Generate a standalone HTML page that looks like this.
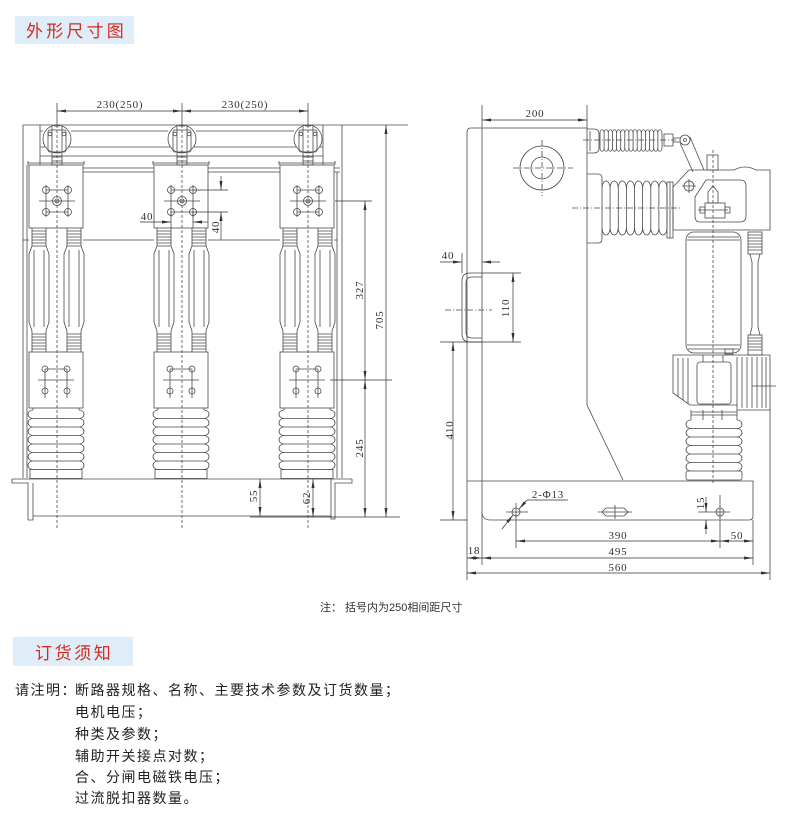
<!DOCTYPE html>
<html><head><meta charset="utf-8">
<style>
html,body{margin:0;padding:0;background:#fff;}
body{width:800px;height:830px;position:relative;overflow:hidden;}
svg{position:absolute;left:0;top:0;}
</style></head><body>
<svg width="800" height="830" viewBox="0 0 800 830" xmlns="http://www.w3.org/2000/svg">
<defs>
<marker id="a" viewBox="0 0 9 3" refX="9" refY="1.5" markerWidth="9" markerHeight="3" markerUnits="userSpaceOnUse" orient="auto-start-reverse"><path d="M0,0 L9,1.5 L0,3z" fill="#333"/></marker>
<g id="post">
<path d="M-7,228 V246 M7,228 V246 M-7,231 H7 M-7,234 H7 M-7,237 H7 M-7,240 H7 M-7,243 H7 M-7,246 H7"/>
<path d="M-7,246 L-10,254 V322 L-7,331 M7,246 L10,254 V322 L7,331"/>
<path d="M-5,250 V327 M5,250 V327"/>
<path d="M-7,331 V352 M7,331 V352 M-7,334 H7 M-7,337 H7 M-7,340 H7 M-7,343 H7 M-7,346 H7 M-7,349 H7"/>
</g>
<g id="ph">
<circle cx="0" cy="139" r="14"/>
<rect x="-9" y="130" width="18" height="22" rx="2"/>
<path d="M-5,126 V152 M5,126 V152 M-3,126 H3"/>
<circle cx="-7" cy="134" r="1.8"/><circle cx="7" cy="134" r="1.8"/>
<rect x="-5" y="152" width="10" height="13"/>
<path d="M-5,157 H5 M-5,161 H5"/>
<path d="M-29,163 H27 M-29,161 V165 M27,161 V165"/>
<rect x="-28" y="165" width="54" height="63"/>
<path d="M-11,190 H11 M-11,212 H11 M-11,185 V217 M11,185 V217 M-18,201 H18"/>
<circle cx="-11" cy="190" r="3.5"/><circle cx="11" cy="190" r="3.5"/>
<circle cx="-11" cy="212" r="3.5"/><circle cx="11" cy="212" r="3.5"/>
<circle cx="0" cy="201" r="4.5"/><circle cx="0" cy="201" r="2"/>
<use href="#post" x="-18"/>
<use href="#post" x="17"/>
<rect x="-28" y="352" width="54" height="56"/>
<path d="M-12,369 H10 M-12,369 V398 M10,369 V398 M-19,380 H17"/>
<circle cx="-12" cy="369" r="3"/><circle cx="10" cy="369" r="3"/>
<circle cx="-12" cy="391" r="3"/><circle cx="10" cy="391" r="3"/>
<path d="M-24,408 V410 M22,408 V410"/>
<path d="M-24,410 a5,4.25 0 0 0 0,8.5 a5,4.25 0 0 0 0,8.5 a5,4.25 0 0 0 0,8.5 a5,4.25 0 0 0 0,8.5 a5,4.25 0 0 0 0,8.5 a5,4.25 0 0 0 0,8.5 a5,4.25 0 0 0 0,8.5"/>
<path d="M22,410 a5,4.25 0 0 1 0,8.5 a5,4.25 0 0 1 0,8.5 a5,4.25 0 0 1 0,8.5 a5,4.25 0 0 1 0,8.5 a5,4.25 0 0 1 0,8.5 a5,4.25 0 0 1 0,8.5 a5,4.25 0 0 1 0,8.5"/>
<path d="M-24,418.5 H22 M-24,427 H22 M-24,435.5 H22 M-24,444 H22 M-24,452.5 H22 M-24,461 H22"/>
<rect x="-27" y="469.5" width="52" height="9"/>
<path d="M0,103 V125" />
<path d="M0,125 V528" stroke-dasharray="3,2"/>
</g>
</defs>

<!-- Title boxes -->
<rect x="15" y="16" width="119" height="28" fill="#deedf8"/>
<text x="26" y="37" font-size="17" fill="#d42a20" letter-spacing="3.2" font-family="'Liberation Sans','Noto Sans CJK SC',sans-serif">外形尺寸图</text>

<!-- LEFT FRONT VIEW -->
<g stroke="#4a4a4a" stroke-width="0.8" fill="none">
<path d="M23,478 V125 H408"/>
<path d="M342,125 V478"/>
<path d="M40,125 V165 M323,125 V165"/>
<path d="M40,131 H43 M71,131 H168 M196,131 H294 M322,131 H323"/>
<path d="M40,147 H45 M69,147 H170 M194,147 H296 M320,147 H323"/>
<path d="M40,156 H323"/>
<path d="M27,165 V478"/>
<path d="M83,168 H154 M208,168 H280 M334,168 H340 M83,172 H154 M208,172 H280 M334,172 H340"/>
<path d="M337,172 V478"/>
<path d="M23,240 H29 M83,240 H154 M208,240 H280 M334,240 H337"/>
<path d="M12,479 H352"/>
<path d="M12,479 V483 H28 V520 H33 V483"/>
<path d="M33,516 H331"/>
<path d="M352,479 V483 H335 V519 H331 V479"/>
<use href="#ph" x="57"/>
<use href="#ph" x="182"/>
<use href="#ph" x="308"/>
</g>

<!-- LEFT dims -->
<g stroke="#333" stroke-width="0.7" fill="none">
<line x1="57" y1="111" x2="182" y2="111" marker-start="url(#a)" marker-end="url(#a)"/>
<line x1="182" y1="111" x2="308" y2="111" marker-start="url(#a)" marker-end="url(#a)"/>
<path d="M171,212 V228 M193,212 V228"/>
<line x1="140" y1="222" x2="171" y2="222" marker-end="url(#a)"/>
<line x1="208" y1="222" x2="193" y2="222" marker-end="url(#a)"/>
<path d="M193,190 H228 M193,212 H228"/>
<line x1="221" y1="176" x2="221" y2="190" marker-end="url(#a)"/>
<line x1="221" y1="240" x2="221" y2="212" marker-end="url(#a)"/>
<path d="M335,201 H372 M330,380 H392 M250,517 H400"/>
<line x1="365" y1="201" x2="365" y2="380" marker-start="url(#a)" marker-end="url(#a)"/>
<line x1="365" y1="380" x2="365" y2="517" marker-start="url(#a)" marker-end="url(#a)"/>
<line x1="386" y1="125" x2="386" y2="517" marker-start="url(#a)" marker-end="url(#a)"/>
<line x1="260" y1="479" x2="260" y2="516" marker-start="url(#a)" marker-end="url(#a)"/>
<line x1="313" y1="479" x2="313" y2="517" marker-start="url(#a)" marker-end="url(#a)"/>
</g>
<g font-family="'Liberation Serif',serif" font-size="11" fill="#333" letter-spacing="0.8" text-anchor="middle">
<text x="120" y="108">230(250)</text>
<text x="245" y="108">230(250)</text>
<text x="147" y="220">40</text>
<text transform="translate(219,227) rotate(-90)">40</text>
<text transform="translate(363,290) rotate(-90)">327</text>
<text transform="translate(383,320) rotate(-90)">705</text>
<text transform="translate(363,448) rotate(-90)">245</text>
<text transform="translate(257,496) rotate(-90)">55</text>
<text transform="translate(310,498) rotate(-90)">62</text>
</g>

<!-- RIGHT SIDE VIEW -->
<g stroke="#4a4a4a" stroke-width="0.8" fill="none">
<path d="M467,580 V132 Q467,128 471,128 H587 V405 L623,480"/>
<path d="M467,481 H753 V516 Q753,520 749,520 H490 Q483,520 482,513"/>
<path d="M482,105 V565 M587,105 V128"/>
<circle cx="542" cy="168" r="22"/><circle cx="542" cy="168" r="11"/>
<path d="M513,168 H573 M542,140 V196" stroke-dasharray="6,2,1,2"/>
<path d="M482,273 H470 Q462,273 462,281 V334 Q462,342 470,342 H482"/>
<path d="M482,277 H472 Q466,277 466,283 V332 Q466,338 472,338 H482"/>
<path d="M445,310 H492" stroke-dasharray="6,2,1,2"/>
<!-- small upper insulator -->
<path d="M587,129 H594 Q599,129 599,134 V148 Q599,153 594,153 H587"/>
<path d="M590,131 V151"/>
<path d="M600,133 a2.07,3.5 0 0 1 4.13,0 a2.07,3.5 0 0 1 4.13,0 a2.07,3.5 0 0 1 4.13,0 a2.07,3.5 0 0 1 4.13,0 a2.07,3.5 0 0 1 4.13,0 a2.07,3.5 0 0 1 4.13,0 a2.07,3.5 0 0 1 4.13,0 a2.07,3.5 0 0 1 4.13,0 a2.07,3.5 0 0 1 4.13,0 a2.07,3.5 0 0 1 4.13,0 a2.07,3.5 0 0 1 4.13,0 a2.07,3.5 0 0 1 4.13,0 a2.07,3.5 0 0 1 4.13,0 a2.07,3.5 0 0 1 4.13,0 a2.07,3.5 0 0 1 4.13,0"/>
<path d="M600,148 a2.07,3.5 0 0 0 4.13,0 a2.07,3.5 0 0 0 4.13,0 a2.07,3.5 0 0 0 4.13,0 a2.07,3.5 0 0 0 4.13,0 a2.07,3.5 0 0 0 4.13,0 a2.07,3.5 0 0 0 4.13,0 a2.07,3.5 0 0 0 4.13,0 a2.07,3.5 0 0 0 4.13,0 a2.07,3.5 0 0 0 4.13,0 a2.07,3.5 0 0 0 4.13,0 a2.07,3.5 0 0 0 4.13,0 a2.07,3.5 0 0 0 4.13,0 a2.07,3.5 0 0 0 4.13,0 a2.07,3.5 0 0 0 4.13,0 a2.07,3.5 0 0 0 4.13,0"/>
<path d="M600,133 V148 M604.1,133 V148 M608.3,133 V148 M612.4,133 V148 M616.5,133 V148 M620.7,133 V148 M624.8,133 V148 M628.9,133 V148 M633.1,133 V148 M637.2,133 V148 M641.3,133 V148 M645.5,133 V148 M649.6,133 V148 M653.7,133 V148 M657.9,133 V148 M662,133 V148"/>
<rect x="664" y="134" width="9" height="12"/>
<path d="M673,138 H680 M673,142 H680"/>
<circle cx="685" cy="140" r="5"/><circle cx="685" cy="140" r="1.5"/>
<path d="M680,143 L693,172 M690,137 L704,170"/>
<path d="M583,140 H676" stroke-dasharray="6,2,1,2"/>
<!-- big horizontal bellows -->
<path d="M587,174 H598 Q602,174 602,178 V239 Q602,243 598,243 H587"/>
<path d="M602,188 a4.06,7 0 0 1 8.125,0 a4.06,7 0 0 1 8.125,0 a4.06,7 0 0 1 8.125,0 a4.06,7 0 0 1 8.125,0 a4.06,7 0 0 1 8.125,0 a4.06,7 0 0 1 8.125,0 a4.06,7 0 0 1 8.125,0 a4.06,7 0 0 1 8.125,0"/>
<path d="M602,228 a4.06,7 0 0 0 8.125,0 a4.06,7 0 0 0 8.125,0 a4.06,7 0 0 0 8.125,0 a4.06,7 0 0 0 8.125,0 a4.06,7 0 0 0 8.125,0 a4.06,7 0 0 0 8.125,0 a4.06,7 0 0 0 8.125,0 a4.06,7 0 0 0 8.125,0"/>
<path d="M610.1,188V228 M618.3,188V228 M626.4,188V228 M634.5,188V228 M642.6,188V228 M650.8,188V228 M658.9,188V228 M667,188V228"/>
<rect x="667" y="182" width="6" height="56"/>
<path d="M670,182 V238"/>
<path d="M572,208 H680" stroke-dasharray="6,2,1,2"/>
<!-- mechanism head -->
<path d="M673,230 V187 L689,170 H734 Q745,164 756,170 H770 V230 Z"/>
<rect x="707" y="155" width="11" height="15"/>
<path d="M706,180 H740 Q746,180 746,186 V216 Q746,222 740,222 H700 Q695,222 695,216 V197 Z"/>
<circle cx="689" cy="186" r="5"/><path d="M682,186 H696 M689,179 V193"/>
<rect x="705" y="203" width="20" height="15"/>
<path d="M700,207 h5 v6 h-5z M725,207 h5 v6 h-5z"/>
<path d="M708,192 L713,186 L718,192 V203 H708 Z"/>
<path d="M698,210 H728"/>
<!-- interrupter -->
<rect x="686" y="232" width="55" height="121" rx="8"/>
<path d="M688,237 H739 M687,240 H740 M687,345 H740 M688,349 H739"/>
<rect x="725" y="349" width="8" height="5"/>
<!-- side rod -->
<rect x="748" y="232" width="14" height="22"/>
<path d="M748,235 H762 M748,238 H762 M748,241 H762 M748,244 H762 M748,247 H762 M748,250 H762"/>
<path d="M750,254 L752,262 V327 L750,335 M760,254 L758,262 V327 L760,335"/>
<rect x="748" y="335" width="14" height="20"/>
<path d="M748,338 H762 M748,341 H762 M748,344 H762 M748,347 H762 M748,350 H762"/>
<!-- lower housing -->
<path d="M673,355 H770 V410 H737 V405 H690 L673,393 Z"/>
<path d="M678,358 V396 M683,358 V400 M688,358 V404 M737,357 V405 M742,357 V408 M747,357 V408 M752,357 V408 M757,357 V408 M762,357 V408 M766,357 V408"/>
<rect x="697" y="362" width="34" height="42" rx="3"/>
<path d="M703,355 V362 M723,355 V362"/>
<path d="M752,386 H776"/>
<path d="M770,410 V580"/>
<!-- lower bellows -->
<path d="M691,410 V420 M737,410 V420 M691,412 H737 M691,415 H737 M703,410 V420 M722,410 V420"/>
<path d="M691,420 a5,4.25 0 0 0 0,8.5 a5,4.25 0 0 0 0,8.5 a5,4.25 0 0 0 0,8.5 a5,4.25 0 0 0 0,8.5 a5,4.25 0 0 0 0,8.5 a5,4.25 0 0 0 0,8.5"/>
<path d="M737,420 a5,4.25 0 0 1 0,8.5 a5,4.25 0 0 1 0,8.5 a5,4.25 0 0 1 0,8.5 a5,4.25 0 0 1 0,8.5 a5,4.25 0 0 1 0,8.5 a5,4.25 0 0 1 0,8.5"/>
<path d="M691,428.5 H737 M691,437 H737 M691,445.5 H737 M691,454 H737 M691,462.5 H737"/>
<rect x="686" y="471" width="56" height="9" rx="2"/>
<path d="M713,150 V485" stroke-dasharray="3,2"/>
<!-- base holes -->
<circle cx="516" cy="512" r="4"/>
<path d="M506,512 H528 M516,503 V548"/>
<path d="M606,508 H624 L628,512 L624,516 H606 L602,512 Z"/>
<path d="M598,512 H632 M615,505 V519"/>
<circle cx="720" cy="512" r="4"/>
<path d="M698,512 H730 M720,495 V548"/>
</g>

<!-- RIGHT dims -->
<g stroke="#333" stroke-width="0.7" fill="none">
<line x1="482" y1="120" x2="587" y2="120" marker-start="url(#a)" marker-end="url(#a)"/>
<path d="M462,253 V273"/>
<line x1="440" y1="262" x2="462" y2="262" marker-end="url(#a)"/>
<line x1="500" y1="262" x2="482" y2="262" marker-end="url(#a)"/>
<path d="M482,273 H521 M440,342 H521 M440,520 H467"/>
<line x1="513" y1="273" x2="513" y2="342" marker-start="url(#a)" marker-end="url(#a)"/>
<line x1="453" y1="342" x2="453" y2="520" marker-start="url(#a)" marker-end="url(#a)"/>
<path d="M527,500 H568"/>
<line x1="527" y1="500" x2="519" y2="509" marker-end="url(#a)"/>
<line x1="502" y1="529" x2="513" y2="515" marker-end="url(#a)"/>
<line x1="706" y1="497" x2="706" y2="512" marker-end="url(#a)"/>
<line x1="706" y1="534" x2="706" y2="520" marker-end="url(#a)"/>
<path d="M753,520 V565"/>
<line x1="516" y1="541" x2="720" y2="541" marker-start="url(#a)" marker-end="url(#a)"/>
<line x1="720" y1="541" x2="753" y2="541" marker-start="url(#a)" marker-end="url(#a)"/>
<line x1="482" y1="558" x2="753" y2="558" marker-start="url(#a)" marker-end="url(#a)"/>
<line x1="467" y1="558" x2="482" y2="558" marker-start="url(#a)" marker-end="url(#a)"/>
<line x1="467" y1="573" x2="770" y2="573" marker-start="url(#a)" marker-end="url(#a)"/>
</g>
<g font-family="'Liberation Serif',serif" font-size="11" fill="#333" letter-spacing="0.8" text-anchor="middle">
<text x="535" y="117">200</text>
<text x="448" y="259">40</text>
<text transform="translate(509,308) rotate(-90)">110</text>
<text transform="translate(453,430) rotate(-90)">410</text>
<text x="548" y="498">2-Φ13</text>
<text transform="translate(704,503) rotate(-90)">15</text>
<text x="618" y="539">390</text>
<text x="737" y="539">50</text>
<text x="618" y="555">495</text>
<text x="474" y="554">18</text>
<text x="618" y="571">560</text>
</g>

<!-- note -->
<g font-family="'Liberation Sans','Noto Sans CJK SC',sans-serif" font-size="11" fill="#333">
<text x="320" y="611">注：</text>
<text x="345" y="611">括号内为250相间距尺寸</text>
</g>

<!-- order notice -->
<rect x="13" y="637" width="120" height="29" fill="#deedf8"/>
<text x="35" y="659" font-size="17" fill="#d42a20" letter-spacing="2.6" font-family="'Liberation Sans','Noto Sans CJK SC',sans-serif">订货须知</text>

<g font-family="'Liberation Sans','Noto Sans CJK SC',sans-serif" font-size="14" fill="#222" letter-spacing="1.5">
<text x="15" y="695">请注明：</text>
<text x="75" y="695">断路器规格、名称、主要技术参数及订货数量；</text>
<text x="75" y="717">电机电压；</text>
<text x="75" y="739">种类及参数；</text>
<text x="75" y="761">辅助开关接点对数；</text>
<text x="75" y="782">合、分闸电磁铁电压；</text>
<text x="75" y="803">过流脱扣器数量。</text>
</g>
</svg>
</body></html>
